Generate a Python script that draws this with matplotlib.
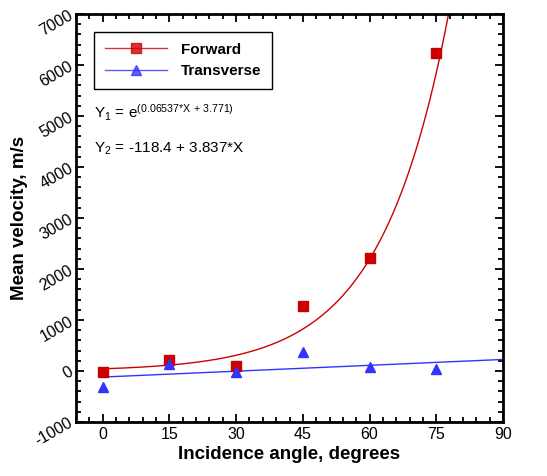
import numpy as np
import matplotlib
matplotlib.use("Agg")
import matplotlib.pyplot as plt
from matplotlib.ticker import MultipleLocator

plt.rcParams['font.family'] = ['Liberation Sans', 'DejaVu Sans']
plt.rcParams['mathtext.fontset'] = 'custom'
plt.rcParams['mathtext.rm'] = 'Liberation Sans'
plt.rcParams['mathtext.it'] = 'Liberation Sans'
plt.rcParams['axes.unicode_minus'] = False

# --- data ---
angles = [0, 15, 30, 45, 60, 75]
forward = [-25, 215, 95, 1265, 2210, 6240]
transverse = [-320, 135, -20, 365, 78, 40]

# fit coefficients shown on the chart
exp_a, exp_b = 0.06537, 3.771
lin_a, lin_b = -118.4, 3.837

red = "#cc0000"
blue = "#3333ff"

fig = plt.figure(figsize=(5.47, 4.76), dpi=100)
ax = fig.add_axes([0.139, 0.1134, 0.7806, 0.8572])

# fitted curves
xf = np.linspace(0, 80, 400)
ax.plot(xf, np.exp(exp_a * xf + exp_b), color=red, lw=1.0, zorder=2)
xl = np.linspace(0, 90, 50)
ax.plot(xl, lin_a + lin_b * xl, color=blue, lw=1.0, zorder=2)

# data points
ax.plot(angles, forward, ls="none", marker="s", ms=6.5, color=red, zorder=3)
ax.plot(angles, transverse, ls="none", marker="^", ms=7, color=blue, zorder=3)

# legend proxies (line + marker)
h1, = ax.plot([], [], color=red, lw=1.0, alpha=0.8, marker="s", ms=6.5,
              mfc=red, mec=red)
h2, = ax.plot([], [], color=blue, lw=1.0, alpha=0.8, marker="^", ms=7,
              mfc=blue, mec=blue)
leg = ax.legend([h1, h2], ["Forward", "Transverse"], loc="upper left",
                bbox_to_anchor=(0.042, 0.956), borderaxespad=0,
                prop={'weight': 'bold', 'size': 11}, fancybox=False,
                handlelength=4.1, handletextpad=0.9, borderpad=0.7,
                labelspacing=0.5, framealpha=1)
leg.get_frame().set_edgecolor("black")
leg.get_frame().set_linewidth(1.0)

ax.text(0.042, 0.745, r"Y$_1$ = e$^{(0.06537{*}X\ {+}\ 3.771)}$",
        transform=ax.transAxes, fontsize=11, va="baseline")
ax.text(0.042, 0.66, r"Y$_2$ = -118.4 + 3.837*X",
        transform=ax.transAxes, fontsize=11, va="baseline")

ax.set_xlim(-6, 90)
ax.set_ylim(-1000, 7000)
ax.xaxis.set_major_locator(MultipleLocator(15))
ax.xaxis.set_minor_locator(MultipleLocator(3))
ax.yaxis.set_major_locator(MultipleLocator(1000))
ax.yaxis.set_minor_locator(MultipleLocator(200))

ax.tick_params(which="both", direction="in", top=True, right=True,
               width=1.3, labelsize=11.5)
ax.tick_params(which="major", length=6)
ax.tick_params(which="minor", length=3.5)
ax.tick_params(axis="y", pad=3)
for lbl in ax.get_yticklabels():
    lbl.set_rotation(30)
    lbl.set_rotation_mode("anchor")
    lbl.set_ha("right")
    lbl.set_va("center")

for s in ax.spines.values():
    s.set_linewidth(2)

ax.set_xlabel("Incidence angle, degrees", fontsize=13.5, fontweight="bold")
ax.set_ylabel("Mean velocity, m/s", fontsize=13.5, fontweight="bold")
ax.xaxis.set_label_coords(0.5, -0.058)
ax.yaxis.set_label_coords(-0.112, 0.5)

fig.savefig("out.png", dpi=100, facecolor="white")
